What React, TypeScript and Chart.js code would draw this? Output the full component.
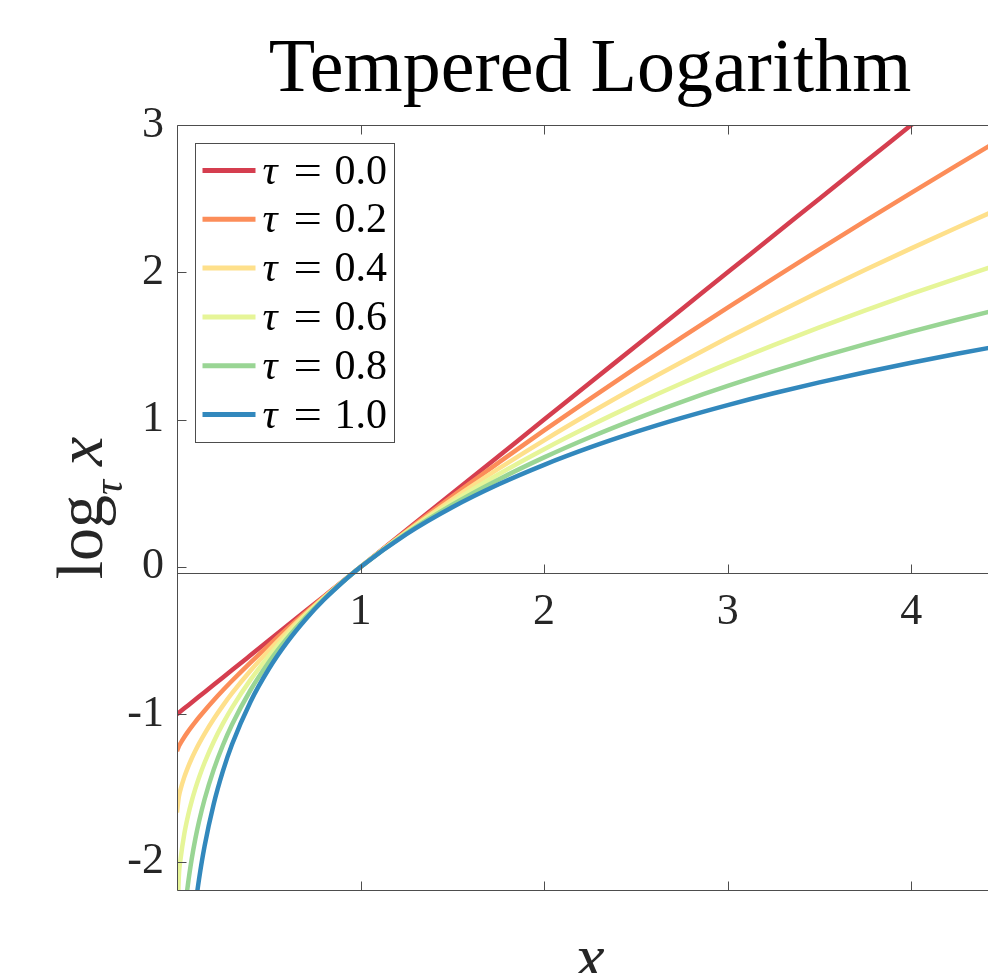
import React, { useEffect, useRef } from "react";
import { Chart, registerables } from "chart.js";

Chart.register(...registerables);

const TITLE = "Tempered Logarithm";
const X_LABEL = "x";
const Y_LABEL_MAIN = "log";
const Y_LABEL_SUB = "τ";
const Y_LABEL_ARG = "x";

const TAU_LABELS = ["0.0", "0.2", "0.4", "0.6", "0.8", "1.0"];
const COLORS = ["#d53e4f", "#fc8d59", "#fee08b", "#e6f598", "#99d594", "#3288bd"];

const X_VALUES = [
  0, 0.01, 0.02, 0.04, 0.06, 0.08, 0.1, 0.12, 0.15, 0.2, 0.25, 0.3, 0.4, 0.5, 0.6, 0.7, 0.8, 0.9, 1.0,
  1.25, 1.5, 1.75, 2.0, 2.25, 2.5, 2.75, 3.0, 3.25, 3.5, 3.75, 4.0, 4.25, 4.5,
];

const LOG_TAU_00 = [
  -1, -0.99, -0.98, -0.96, -0.94, -0.92, -0.9, -0.88, -0.85, -0.8, -0.75, -0.7, -0.6, -0.5, -0.4, -0.3, -0.2, -0.1, 0,
  0.25, 0.5, 0.75, 1, 1.25, 1.5, 1.75, 2, 2.25, 2.5, 2.75, 3, 3.25, 3.5,
];
const LOG_TAU_02 = [
  -1.25, -1.2186, -1.1953, -1.1548, -1.1183, -1.0843, -1.0519, -1.0208, -0.976, -0.9051, -0.8377, -0.7729, -0.6494,
  -0.5321, -0.4193, -0.3103, -0.2044, -0.101, 0, 0.2443, 0.479, 0.7059, 0.9264, 1.1414, 1.3517, 1.5578, 1.7603,
  1.9594, 2.1554, 2.3486, 2.5393, 2.7276, 2.9137,
];
const LOG_TAU_04 = [
  -1.6667, -1.5615, -1.5073, -1.4251, -1.3586, -1.3005, -1.248, -1.1996, -1.1327, -1.0321, -0.9412, -0.8574, -0.7049,
  -0.5671, -0.44, -0.3211, -0.2089, -0.1021, 0, 0.2388, 0.4591, 0.665, 0.8595, 1.0445, 1.2214, 1.3914, 1.5553,
  1.7138, 1.8675, 2.0169, 2.1623, 2.3042, 2.4427,
];
const LOG_TAU_06 = [
  -2.5, -2.1038, -1.9772, -1.8101, -1.6887, -1.5897, -1.5047, -1.4295, -1.3294, -1.1867, -1.0641, -0.9555, -0.7671,
  -0.6054, -0.462, -0.3324, -0.2135, -0.1032, 0, 0.2334, 0.4402, 0.6272, 0.7988, 0.9579, 1.1067, 1.2469, 1.3796,
  1.5058, 1.6263, 1.7418, 1.8528, 1.9596, 2.0627,
];
const LOG_TAU_08 = [
  -5, -3.0095, -2.7135, -2.3735, -2.1516, -1.9829, -1.8452, -1.7281, -1.5787, -1.3761, -1.2107, -1.07, -0.8372,
  -0.6472, -0.4856, -0.3442, -0.2183, -0.1042, 0, 0.2282, 0.4224, 0.5922, 0.7435, 0.8804, 1.0056, 1.1212, 1.2287,
  1.3292, 1.4237, 1.513, 1.5976, 1.678, 1.7548,
];
const LOG_TAU_10 = [
  null, null, null, null, null, -2.5257, -2.3026, -2.1203, -1.8971, -1.6094, -1.3863, -1.204, -0.9163, -0.6931,
  -0.5108, -0.3567, -0.2231, -0.1054, 0, 0.2231, 0.4055, 0.5596, 0.6931, 0.8109, 0.9163, 1.0116, 1.0986, 1.1787,
  1.2528, 1.3218, 1.3863, 1.4469, 1.5041,
];

const SERIES = [LOG_TAU_00, LOG_TAU_02, LOG_TAU_04, LOG_TAU_06, LOG_TAU_08, LOG_TAU_10];

const X_MIN = 0;
const X_MAX = 4.5;
const Y_MIN = -2.2;
const Y_MAX = 3;
const X_TICKS = [1, 2, 3, 4];
const X_TICK_LABELS = ["1", "2", "3", "4"];
const Y_TICKS = [-2, -1, 0, 1, 2, 3];
const Y_TICK_LABELS = ["-2", "-1", "0", "1", "2", "3"];

const SERIF = '"Liberation Serif", "DejaVu Serif", serif';
const AXIS_COLOR = "#4d4d4d";
const TEXT_COLOR = "#262626";

const CANVAS_W = 1020;
const CANVAS_H = 1000;

const decorPlugin = {
  id: "decor",
  afterDatasetsDraw(chart: any) {
    const { ctx, chartArea: a, scales } = chart;
    const xs = scales.x;
    const ys = scales.y;
    ctx.save();
    ctx.strokeStyle = AXIS_COLOR;
    ctx.lineWidth = 1;
    const L = Math.round(a.left) + 0.5;
    const T = Math.round(a.top) + 0.5;
    const B = Math.round(a.bottom) - 0.5;
    const R = Math.round(a.right) - 0.5;
    const y0 = Math.round(ys.getPixelForValue(0)) + 6 + 0.5;
    const tl = 9;
    ctx.beginPath();
    ctx.moveTo(L, B);
    ctx.lineTo(L, T);
    ctx.lineTo(R, T);
    ctx.lineTo(R, B);
    ctx.lineTo(L, B);
    ctx.moveTo(L, y0);
    ctx.lineTo(R, y0);
    X_TICKS.forEach((v) => {
      const px = Math.round(xs.getPixelForValue(v)) + 0.5;
      ctx.moveTo(px, T);
      ctx.lineTo(px, T + tl);
      ctx.moveTo(px, B);
      ctx.lineTo(px, B - tl);
      ctx.moveTo(px, y0);
      ctx.lineTo(px, y0 - tl);
    });
    Y_TICKS.forEach((v) => {
      const py = Math.round(ys.getPixelForValue(v)) + 0.5;
      ctx.moveTo(L, py);
      ctx.lineTo(L + tl, py);
      ctx.moveTo(R, py);
      ctx.lineTo(R - tl, py);
    });
    ctx.stroke();

    // title
    const cx = (a.left + a.right) / 2;
    ctx.fillStyle = "#000";
    ctx.textAlign = "center";
    ctx.textBaseline = "alphabetic";
    ctx.font = `76px ${SERIF}`;
    ctx.fillText(TITLE, cx, 91);

    // x label
    ctx.fillStyle = TEXT_COLOR;
    ctx.font = `italic 66px ${SERIF}`;
    ctx.fillText(X_LABEL, cx, 979);

    // y label
    ctx.save();
    const cy = (a.top + a.bottom) / 2;
    ctx.translate(a.left - 75, cy);
    ctx.rotate(-Math.PI / 2);
    ctx.textAlign = "left";
    const fMain = `66px ${SERIF}`;
    const fSub = `italic 42px ${SERIF}`;
    const fArg = `italic 66px ${SERIF}`;
    ctx.font = fMain;
    const wMain = ctx.measureText(Y_LABEL_MAIN).width;
    ctx.font = fSub;
    const wSub = ctx.measureText(Y_LABEL_SUB).width;
    ctx.font = fArg;
    const wArg = ctx.measureText(Y_LABEL_ARG).width;
    const gap = 14;
    const total = wMain + wSub + gap + wArg;
    let px = -total / 2;
    ctx.font = fMain;
    ctx.fillText(Y_LABEL_MAIN, px, 0);
    px += wMain;
    ctx.font = fSub;
    ctx.fillText(Y_LABEL_SUB, px, 20);
    px += wSub + gap;
    ctx.font = fArg;
    ctx.fillText(Y_LABEL_ARG, px, 0);
    ctx.restore();

    // legend
    const lx = Math.round(a.left) + 18.5;
    const ly = Math.round(a.top) + 18.5;
    const lw = 199;
    const lh = 299;
    ctx.fillStyle = "#fff";
    ctx.fillRect(lx, ly, lw, lh);
    ctx.strokeStyle = AXIS_COLOR;
    ctx.lineWidth = 1;
    ctx.strokeRect(lx, ly, lw, lh);
    const rowStep = 48.8;
    TAU_LABELS.forEach((lab, i) => {
      const ry = ly + 27 + i * rowStep;
      ctx.strokeStyle = COLORS[i];
      ctx.lineWidth = 5;
      ctx.beginPath();
      ctx.moveTo(lx + 7, ry);
      ctx.lineTo(lx + 60, ry);
      ctx.stroke();
      ctx.fillStyle = "#000";
      ctx.textAlign = "left";
      ctx.textBaseline = "alphabetic";
      ctx.font = `italic 42px ${SERIF}`;
      ctx.fillText("τ", lx + 67, ry + 13);
      ctx.font = `42px ${SERIF}`;
      ctx.save();
      ctx.translate(lx + 98, 0);
      ctx.scale(1.2, 1);
      ctx.fillText("=", 0, ry + 13);
      ctx.restore();
      ctx.fillText(lab, lx + 139, ry + 13);
    });
    ctx.restore();
  },
};

export default function App() {
  const canvasRef = useRef<HTMLCanvasElement | null>(null);

  useEffect(() => {
    if (!canvasRef.current) return;
    const datasets = SERIES.map((ys, i) => ({
      label: `τ = ${TAU_LABELS[i]}`,
      data: X_VALUES.map((x, j) => ({ x, y: ys[j] })).filter((p) => p.y !== null),
      borderColor: COLORS[i],
      backgroundColor: COLORS[i],
      borderWidth: 4.5,
      pointRadius: 0,
      fill: false,
      cubicInterpolationMode: "monotone" as const,
      clip: 0,
      order: SERIES.length - i,
    }));

    const chart = new Chart(canvasRef.current, {
      type: "line",
      data: { datasets },
      options: {
        responsive: false,
        devicePixelRatio: 1,
        animation: false,
        events: [],
        layout: { padding: { top: 125, right: CANVAS_W - 1003, bottom: CANVAS_H - 891, left: 0 } },
        plugins: {
          legend: { display: false },
          title: { display: false },
          tooltip: { enabled: false },
        },
        scales: {
          x: {
            type: "linear",
            min: X_MIN,
            max: X_MAX,
            position: { y: 0 } as any,
            grid: { display: false },
            border: { display: false },
            afterBuildTicks: (s: any) => {
              s.ticks = X_TICKS.map((v) => ({ value: v }));
            },
            ticks: {
              color: TEXT_COLOR,
              font: { family: SERIF, size: 44 },
              padding: 11,
              maxRotation: 0,
              autoSkip: false,
              callback: (_v: any, idx: number) => X_TICK_LABELS[idx],
            },
          },
          y: {
            type: "linear",
            min: Y_MIN,
            max: Y_MAX,
            position: "left",
            grid: { display: false },
            border: { display: false },
            afterFit: (s: any) => {
              s.width = 177;
            },
            afterBuildTicks: (s: any) => {
              s.ticks = Y_TICKS.map((v) => ({ value: v }));
            },
            ticks: {
              color: TEXT_COLOR,
              font: { family: SERIF, size: 44 },
              padding: 5,
              autoSkip: false,
              callback: (_v: any, idx: number) => Y_TICK_LABELS[idx],
            },
          },
        },
      },
      plugins: [decorPlugin],
    });
    return () => chart.destroy();
  }, []);

  return (
    <div
      style={{
        position: "fixed",
        left: 0,
        top: 0,
        width: 988,
        height: 973,
        overflow: "hidden",
        background: "#fff",
      }}
    >
      <canvas
        ref={canvasRef}
        width={CANVAS_W}
        height={CANVAS_H}
        style={{ display: "block", width: CANVAS_W, height: CANVAS_H }}
      />
    </div>
  );
}
